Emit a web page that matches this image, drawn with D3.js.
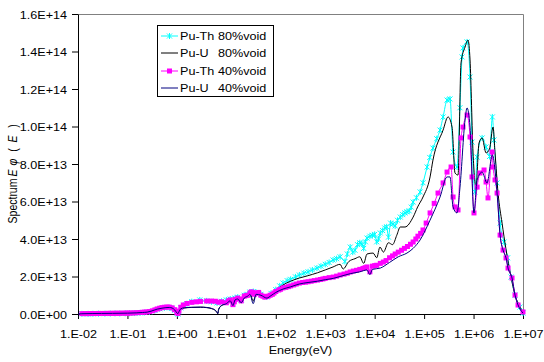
<!DOCTYPE html>
<html>
<head>
<meta charset="utf-8">
<script src="https://cdn.jsdelivr.net/npm/d3@7"></script>
<style>
  html, body { margin: 0; padding: 0; background: #fff; }
  svg { display: block; font-family: "Liberation Sans", Arial, sans-serif; }
</style>
</head>
<body>
<div id="root"></div>
<script>
// values are [energy in eV, spectrum in units of 1E+12]
const UNIT = 1e12;

const puTh80 = [
  [0.012, 0.1], [0.016, 0.1], [0.02, 0.15], [0.026, 0.2], [0.035, 0.2], [0.045, 0.25],
  [0.056, 0.3], [0.07, 0.3], [0.09, 0.35], [0.11, 0.4], [0.14, 0.5], [0.18, 0.6],
  [0.22, 0.8], [0.28, 1.1], [0.36, 1.9], [0.45, 2.8], [0.56, 3.3], [0.7, 3.4],
  [0.8, 3.0], [0.9, 2.0], [1.0, 0.5], [1.05, 0.0], [1.1, 1.2], [1.2, 3.3],
  [1.35, 4.6], [1.6, 5.5], [2.0, 6.6], [2.9, 7.5], [4.0, 7.0], [5.0, 6.5],
  [6.5, 5.9], [8.0, 6.8], [10, 7.5], [12, 8.0], [13.6, 5.5], [15, 8.5],
  [17, 9.0], [20, 7.5], [23, 10.0], [27, 10.5], [30, 11.7], [35, 12.0],
  [40, 11.5], [50, 10.5], [66, 9.1], [80, 11.0], [100, 13.0], [120, 15.0],
  [140, 16.5], [170, 17.8], [200, 18.5], [250, 19.8], [300, 20.8], [370, 21.8],
  [450, 22.5], [550, 23.5], [680, 24.5], [820, 25.5], [1000, 26.5], [1200, 27.5],
  [1440, 28.8], [1700, 29.5], [2000, 30.5], [2500, 28.0], [2800, 32.0], [3200, 35.7],
  [3600, 33.0], [4000, 34.0], [4500, 37.0], [5000, 38.0], [5500, 37.5], [6000, 35.0],
  [6500, 38.5], [7000, 40.5], [8000, 41.5], [9000, 42.0], [1e4, 42.5], [1.1e4, 38.5],
  [1.2e4, 40.0], [1.3e4, 43.2], [1.45e4, 44.5], [1.6e4, 45.9], [1.75e4, 46.5], [1.9e4, 41.0],
  [2.1e4, 48.5], [2.35e4, 48.0], [2.6e4, 47.0], [2.9e4, 50.0], [3.3e4, 51.7], [3.7e4, 53.0],
  [4.1e4, 53.9], [4.5e4, 54.5], [5e4, 55.0], [5.5e4, 57.0], [6e4, 59.7], [7e4, 62.0],
  [8.3e4, 65.1], [9.5e4, 70.0], [1.15e5, 78.4], [1.3e5, 83.5], [1.51e5, 88.5], [1.8e5, 93.5],
  [2.1e5, 98.1], [2.42e5, 105.1], [2.91e5, 114.1], [3.34e5, 114.7], [3.85e5, 86.4], [4.63e5, 78.4],
  [5.3e5, 110.0], [5.85e5, 137.1], [6.12e5, 141.9], [7.38e5, 145.1], [8.49e5, 126.4], [9.31e5, 91.7],
  [1.07e6, 65.1], [1.18e6, 83.7], [1.49e6, 93.9], [1.79e6, 89.1], [2.1e6, 84.0], [2.4e6, 105.1],
  [2.59e6, 92.8], [2.99e6, 69.9], [3.44e6, 48.5], [4.14e6, 38.4], [4.9e6, 30.0], [5.73e6, 19.7],
  [6.9e6, 10.1], [8.7e6, 3.7], [1e7, 0.5]
];

const puU80 = [
  [0.01, 0.0], [0.02, 0.2], [0.05, 0.3], [0.1, 0.45], [0.2, 0.8], [0.3, 1.4],
  [0.4, 2.5], [0.5, 3.0], [0.6, 3.3], [0.7, 3.4], [0.8, 3.1], [0.9, 2.1],
  [1.0, 0.5], [1.05, 0.2], [1.1, 1.2], [1.2, 2.6], [1.4, 3.2], [2, 3.5],
  [3, 3.6], [4, 3.4], [5, 2.9], [6, 1.8], [6.5, 0.8], [6.7, 0.2],
  [7, 2.5], [8, 4.5], [10, 5.5], [12, 7.0], [13.6, 4.5], [15, 7.5],
  [17, 8.0], [20, 6.0], [23, 8.5], [27, 9.5], [30, 11.0], [35, 7.0],
  [40, 10.5], [50, 10.0], [66, 8.5], [80, 10.0], [100, 12.5], [140, 15.5],
  [200, 17.5], [300, 19.2], [430, 20.3], [700, 22.0], [1000, 23.5], [1440, 25.1],
  [2000, 26.5], [2300, 24.0], [3000, 28.0], [4000, 29.5], [5000, 30.5], [6000, 27.0],
  [7000, 32.0], [9300, 32.5], [1.1e4, 30.0], [1.28e4, 35.7], [1.5e4, 33.0], [1.9e4, 38.0],
  [2.3e4, 37.0], [2.8e4, 42.0], [3.3e4, 46.4], [4.1e4, 46.4], [6e4, 51.7], [7.4e4, 57.1],
  [9.5e4, 62.4], [1.32e5, 73.1], [1.51e5, 82.1], [2.42e5, 98.1], [3.05e5, 105.1], [3.67e5, 99.7],
  [4.22e5, 75.2], [4.85e5, 74.1], [5.58e5, 133.9], [6.73e5, 142.4], [7.73e5, 146.1], [8.49e5, 135.5],
  [9.77e5, 85.9], [1.12e6, 67.7], [1.29e6, 91.2], [1.49e6, 93.9], [1.79e6, 85.9], [2.1e6, 88.0],
  [2.48e6, 99.7], [2.72e6, 85.9], [3.13e6, 64.5], [3.77e6, 48.5], [4.5e6, 35.0], [5.73e6, 19.7],
  [6.9e6, 10.1], [8.7e6, 3.7], [1e7, 0.5]
];

const puTh40 = [
  [0.012, 0.2], [0.014, 0.2], [0.016, 0.2], [0.018, 0.25], [0.02, 0.25], [0.023, 0.25],
  [0.026, 0.3], [0.03, 0.3], [0.035, 0.3], [0.04, 0.35], [0.045, 0.35], [0.05, 0.35],
  [0.056, 0.4], [0.063, 0.4], [0.07, 0.4], [0.08, 0.45], [0.09, 0.45], [0.1, 0.5],
  [0.11, 0.5], [0.125, 0.55], [0.14, 0.6], [0.16, 0.7], [0.18, 0.8], [0.2, 0.9],
  [0.22, 1.0], [0.25, 1.1], [0.28, 1.3], [0.32, 1.7], [0.36, 2.2], [0.4, 2.7],
  [0.45, 3.1], [0.5, 3.4], [0.56, 3.6], [0.63, 3.7], [0.7, 3.7], [0.8, 3.3],
  [0.9, 2.3], [1.0, 0.8], [1.05, 0.3], [1.1, 1.6], [1.2, 3.6], [1.35, 4.8],
  [1.6, 5.6], [2.0, 6.2], [2.5, 6.5], [3.0, 6.7], [4.0, 6.9], [5.0, 6.9],
  [6.0, 6.8], [7.0, 6.3], [8.0, 6.5], [10, 6.0], [11, 7.0], [12, 7.5],
  [13.6, 5.0], [14.5, 6.5], [15, 7.8], [17, 8.5], [18.5, 8.0], [20, 7.0],
  [23, 9.5], [25, 9.8], [27, 10.0], [30, 11.2], [32, 11.8], [35, 11.5],
  [37, 10.5], [40, 11.0], [45, 11.5], [50, 10.0], [55, 9.5], [60, 9.0],
  [65, 9.3], [70, 9.5], [77, 10.0], [85, 10.5], [92, 11.2], [100, 12.0],
  [115, 12.8], [125, 13.2], [140, 13.9], [160, 14.2], [180, 14.6], [200, 15.0],
  [230, 15.5], [260, 16.0], [300, 16.5], [350, 16.8], [400, 17.0], [450, 17.2],
  [520, 17.5], [600, 17.8], [700, 18.1], [800, 18.4], [900, 18.7], [1000, 19.0],
  [1200, 19.4], [1450, 19.7], [1700, 20.2], [2000, 20.8], [2400, 21.3], [2800, 21.8],
  [3200, 22.4], [3700, 22.9], [4300, 23.3], [5000, 23.8], [5800, 24.3], [6400, 24.7],
  [7000, 25.1], [8000, 22.5], [9000, 25.5], [1e4, 25.8], [1.1e4, 26.0], [1.3e4, 27.0],
  [1.5e4, 27.7], [1.7e4, 28.5], [2e4, 30.0], [2.3e4, 31.0], [2.6e4, 32.0], [3e4, 33.0],
  [3.5e4, 34.0], [4e4, 35.0], [4.6e4, 36.0], [5.3e4, 37.2], [6e4, 38.4], [6.8e4, 40.0],
  [7.5e4, 41.5], [8.5e4, 43.0], [9.5e4, 44.8], [1.1e5, 48.5], [1.32e5, 53.9], [1.6e5, 59.0],
  [1.91e5, 64.5], [2.42e5, 69.9], [2.91e5, 75.7], [3.51e5, 78.4], [3.85e5, 62.4], [4.22e5, 57.1],
  [4.85e5, 55.5], [5.58e5, 93.9], [6.12e5, 99.7], [7.38e5, 106.1], [8.49e5, 94.4], [9.31e5, 73.1],
  [1.02e6, 53.9], [1.18e6, 67.7], [1.35e6, 75.2], [1.63e6, 76.8], [1.79e6, 70.4], [1.96e6, 61.9],
  [2.37e6, 86.4], [2.48e6, 78.4], [2.72e6, 71.5], [2.99e6, 64.5], [3.44e6, 42.1], [3.95e6, 34.1],
  [4.54e6, 29.9], [4.98e6, 24.5], [6.0e6, 19.2], [6.9e6, 10.1], [7.94e6, 4.8], [1e7, 1.1]
];

const puU40 = [
  [0.01, 0.0], [0.012, 0.15], [0.02, 0.25], [0.03, 0.3], [0.05, 0.35], [0.1, 0.45],
  [0.15, 0.6], [0.2, 0.8], [0.25, 1.0], [0.3, 1.5], [0.4, 2.6], [0.5, 3.1],
  [0.6, 3.4], [0.7, 3.5], [0.8, 3.2], [0.9, 2.2], [1.0, 0.6], [1.05, 0.2],
  [1.1, 1.2], [1.2, 2.8], [1.4, 3.3], [2, 3.6], [3, 3.7], [4, 3.5],
  [5, 3.0], [6, 2.0], [6.5, 0.8], [6.7, 0.2], [7, 2.5], [8, 4.5],
  [10, 5.5], [12, 7.0], [13.6, 4.5], [15, 7.5], [17, 8.0], [20, 6.0],
  [23, 8.5], [27, 9.5], [30, 10.5], [35, 5.5], [40, 10.5], [50, 10.0],
  [66, 8.5], [80, 9.8], [100, 11.5], [140, 13.3], [200, 14.5], [300, 16.0],
  [450, 16.8], [700, 17.5], [1000, 18.3], [1450, 19.0], [2000, 20.0], [3200, 21.5],
  [5000, 22.5], [7000, 23.5], [8000, 21.0], [9000, 23.8], [1.3e4, 24.5], [2e4, 27.5],
  [3e4, 30.5], [4.5e4, 32.5], [6e4, 35.0], [8.3e4, 39.5], [1.32e5, 50.1], [2.1e5, 62.4],
  [2.91e5, 73.1], [3.34e5, 73.1], [3.85e5, 57.1], [4.63e5, 53.9], [5.32e5, 67.7], [6.73e5, 103.5],
  [7.38e5, 109.9], [8.49e5, 99.7], [1.02e6, 53.9], [1.18e6, 71.5], [1.49e6, 75.7], [1.87e6, 69.9],
  [2.4e6, 84.8], [2.99e6, 64.5], [3.44e6, 42.1], [3.95e6, 34.1], [4.54e6, 29.9], [4.98e6, 24.5],
  [6.0e6, 19.2], [6.9e6, 10.1], [7.94e6, 4.8], [1e7, 0.5]
];

const seriesNames = ["Pu-Th", "Pu-U", "Pu-Th", "Pu-U"];
const voidLabels = ["80%void", "80%void", "40%void", "40%void"];
const xTicks = [1e-2, 1e-1, 1e0, 1e1, 1e2, 1e3, 1e4, 1e5, 1e6, 1e7];
const yTicks = [0, 2e13, 4e13, 6e13, 8e13, 1e14, 1.2e14, 1.4e14, 1.6e14];

const width = 544;
const height = 362;
const plotLeft = 78, plotRight = 523, plotTop = 14, plotBottom = 314;
const fontSize = 10.5;
const stretch = 1.2; // text in the original is drawn a bit wide

const svg = d3.select("#root").append("svg")
  .attr("width", width)
  .attr("height", height)
  .attr("viewBox", [0, 0, width, height]);

const x = d3.scaleLog().domain([1e-2, 1e7]).range([plotLeft, plotRight]);
const y = d3.scaleLinear().domain([0, 1.6e14]).range([plotBottom, plotTop]);

const pad2 = (n) => String(Math.abs(n)).padStart(2, "0");
const fmtX = (d) => {
  const e = Math.round(Math.log10(d));
  return "1.E" + (e < 0 ? "-" : "+") + pad2(e);
};
const fmtY = (d) => {
  if (d === 0) return "0.0E+00";
  const e = Math.floor(Math.log10(d) + 1e-9);
  return (d / Math.pow(10, e)).toFixed(1) + "E+" + pad2(e);
};

// plot frame (top / right in grey)
svg.append("path")
  .attr("d", `M${plotLeft},${plotTop + 0.5}H${plotRight + 0.5}V${plotBottom}`)
  .attr("fill", "none")
  .attr("stroke", "#808080")
  .attr("stroke-width", 1);

// x axis
const gx = svg.append("g")
  .attr("transform", `translate(0,${plotBottom})`)
  .call(d3.axisBottom(x).tickValues(xTicks).tickFormat(fmtX).tickSize(5).tickSizeOuter(0));
gx.select(".domain").attr("stroke", "#000");
gx.selectAll("line").attr("stroke", "#000");
gx.selectAll("text")
  .attr("y", 24)
  .attr("dy", null)
  .attr("fill", "#000")
  .attr("font-size", fontSize)
  .attr("font-family", "Liberation Sans, Arial, sans-serif")
  .attr("transform", `scale(${stretch},1)`);

// y axis
const gy = svg.append("g")
  .attr("transform", `translate(${plotLeft},0)`)
  .call(d3.axisLeft(y).tickValues(yTicks).tickFormat(fmtY).tickSize(6).tickSizeOuter(0));
gy.select(".domain").attr("stroke", "#000");
gy.selectAll("line").attr("stroke", "#000");
gy.selectAll("text")
  .attr("x", -11 / stretch)
  .attr("dy", "0.41em")
  .attr("fill", "#000")
  .attr("font-size", fontSize)
  .attr("font-family", "Liberation Sans, Arial, sans-serif")
  .attr("transform", `scale(${stretch},1)`);

// axis titles
svg.append("text")
  .attr("transform", `translate(${(plotLeft + plotRight) / 2},354) scale(${stretch},1)`)
  .attr("text-anchor", "middle")
  .attr("font-size", fontSize)
  .text("Energy(eV)");

const yTitle = svg.append("text")
  .attr("transform", `translate(17,0) rotate(-90) scale(1,${stretch})`)
  .attr("font-size", fontSize)
  .attr("text-anchor", "middle");
[
  ["Spectrum", 201, "normal"],
  ["E", 173, "italic"],
  ["\u03c6", 162, "italic"],
  ["(", 150, "normal"],
  ["E", 139, "italic"],
  [")", 126, "normal"]
].forEach(([t, pos, style]) => {
  yTitle.append("tspan").attr("x", -pos).attr("y", 0).attr("font-style", style).text(t);
});

// series
const line = d3.line()
  .x((d) => x(d[0]))
  .y((d) => y(d[1] * UNIT))
  .curve(d3.curveMonotoneX);

const starPath = "M-2.5,-2.5L2.5,2.5M-2.5,2.5L2.5,-2.5M0,-3L0,3";

function drawLine(data, color) {
  svg.append("path")
    .datum(data)
    .attr("fill", "none")
    .attr("stroke", color)
    .attr("stroke-width", 1)
    .attr("d", line);
}

drawLine(puTh80, "#00FFFF");
svg.append("g").selectAll("path").data(puTh80).join("path")
  .attr("transform", (d) => `translate(${x(d[0])},${y(d[1] * UNIT)})`)
  .attr("d", starPath)
  .attr("stroke", "#00FFFF")
  .attr("stroke-width", 1)
  .attr("fill", "none");

drawLine(puU80, "#000000");

drawLine(puTh40, "#FF00FF");
svg.append("g").selectAll("rect").data(puTh40).join("rect")
  .attr("x", (d) => x(d[0]) - 2.5)
  .attr("y", (d) => y(d[1] * UNIT) - 2.5)
  .attr("width", 5)
  .attr("height", 5)
  .attr("fill", "#FF00FF");

drawLine(puU40, "#000080");

// legend
const legend = svg.append("g").attr("transform", "translate(157,25)");
legend.append("rect")
  .attr("x", 0.5)
  .attr("y", 0.5)
  .attr("width", 116)
  .attr("height", 71)
  .attr("fill", "#fff")
  .attr("stroke", "#000")
  .attr("stroke-width", 1);

const legendColors = ["#00FFFF", "#000000", "#FF00FF", "#000080"];
const rowY = [11, 28, 46, 63];

seriesNames.forEach((name, i) => {
  const row = legend.append("g").attr("transform", `translate(0,${rowY[i]})`);
  row.append("line")
    .attr("x1", 4).attr("x2", 21).attr("y1", 0).attr("y2", 0)
    .attr("stroke", legendColors[i]).attr("stroke-width", 1);
  if (i === 0) {
    row.append("path").attr("transform", "translate(12.5,0)").attr("d", starPath)
      .attr("stroke", legendColors[i]).attr("fill", "none");
  }
  if (i === 2) {
    row.append("rect").attr("x", 10).attr("y", -2.5).attr("width", 5).attr("height", 5)
      .attr("fill", legendColors[i]);
  }
  row.append("text")
    .attr("transform", `translate(23,4) scale(${stretch},1)`)
    .attr("font-size", fontSize)
    .text(name);
  row.append("text")
    .attr("transform", `translate(61,4) scale(${stretch},1)`)
    .attr("font-size", fontSize)
    .text(voidLabels[i]);
});
</script>
</body>
</html>
